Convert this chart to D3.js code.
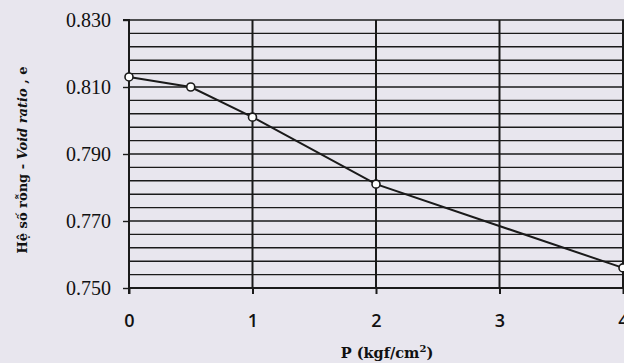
<!DOCTYPE html>
<html><head><meta charset="utf-8">
<script src="https://cdnjs.cloudflare.com/ajax/libs/d3/7.8.5/d3.min.js"></script>
<style>
html,body{margin:0;padding:0;background:#e8e6ee;}
svg{display:block;}
</style></head>
<body>
<svg id="c" width="624" height="363"></svg>
<script>
const pressure = [0, 0.5, 1, 2, 4];
const voidRatio = [0.813, 0.810, 0.801, 0.781, 0.756];
const xTicks = [0, 1, 2, 3, 4];
const yTicks = [0.750, 0.770, 0.790, 0.810, 0.830];
const yGrid = d3.range(0, 21).map(i => 0.750 + i * 0.004);

const svg = d3.select("#c");
const x = d3.scaleLinear().domain([0, 4]).range([129, 623]);
const y = d3.scaleLinear().domain([0.750, 0.830]).range([288, 20]);
const ink = "#1a1a1a";

// horizontal grid
svg.append("g").selectAll("line").data(yGrid).join("line")
  .attr("x1", x(0)).attr("x2", 624)
  .attr("y1", d => y(d)).attr("y2", d => y(d))
  .attr("stroke", ink).attr("stroke-width", 1.4);

// vertical grid
svg.append("g").selectAll("line").data(xTicks.slice(1)).join("line")
  .attr("x1", d => x(d)).attr("x2", d => x(d))
  .attr("y1", y(0.830)).attr("y2", y(0.750))
  .attr("stroke", ink).attr("stroke-width", 2);

// y axis
const yAxis = d3.axisLeft(y).tickValues(yTicks).tickFormat(d3.format(".3f")).tickSize(6).tickPadding(12);
const gy = svg.append("g").attr("transform", `translate(${x(0)},0)`).call(yAxis);
gy.select(".domain").attr("stroke", ink).attr("stroke-width", 2).attr("d", `M-6,${y(0.830)}H0V${y(0.750)}`);
gy.selectAll(".tick line").attr("stroke", ink).attr("stroke-width", 1.4);
gy.selectAll(".tick text").attr("fill", "#111").style("font-family", "'Liberation Serif', serif").style("font-size", "20px");

// x axis
const xAxis = d3.axisBottom(x).tickValues(xTicks).tickFormat(d3.format("d")).tickSize(6).tickPadding(20);
const gx = svg.append("g").attr("transform", `translate(0,${y(0.750)})`).call(xAxis);
gx.select(".domain").attr("stroke", ink).attr("stroke-width", 2).attr("d", `M${x(0)},6V0H624`);
gx.selectAll(".tick line").attr("stroke", ink).attr("stroke-width", 2);
gx.selectAll(".tick text").attr("fill", "#111").style("font-family", "'Open Sans', sans-serif").style("font-size", "18px").style("font-weight", "600");

// data line
svg.append("path").datum(pressure.map((p, i) => [p, voidRatio[i]]))
  .attr("fill", "none").attr("stroke", ink).attr("stroke-width", 2)
  .attr("d", d3.line().x(d => x(d[0])).y(d => y(d[1])));

svg.append("g").selectAll("circle").data(pressure.map((p, i) => [p, voidRatio[i]])).join("circle")
  .attr("cx", d => x(d[0])).attr("cy", d => y(d[1])).attr("r", 4)
  .attr("fill", "#fff").attr("stroke", ink).attr("stroke-width", 1.6);

// x title
const xt = svg.append("text").attr("x", 387).attr("y", 358).attr("text-anchor", "middle")
  .style("font-family", "'DejaVu Serif', serif").style("font-size", "14.5px").style("font-weight", "bold").attr("fill", "#111");
xt.append("tspan").text("P (kgf/cm");
xt.append("tspan").attr("dy", -6).style("font-size", "10px").text("2");
xt.append("tspan").attr("dy", 6).text(")");

// y title
const yt = svg.append("text").attr("transform", "translate(27,160) rotate(-90)").attr("text-anchor", "middle")
  .style("font-family", "'DejaVu Serif', serif").style("font-size", "13px").style("font-weight", "bold").attr("fill", "#111");
yt.append("tspan").text("Hệ số rỗng - ");
yt.append("tspan").style("font-style", "italic").text("Void ratio");
yt.append("tspan").text(" , e");
</script>
</body></html>
